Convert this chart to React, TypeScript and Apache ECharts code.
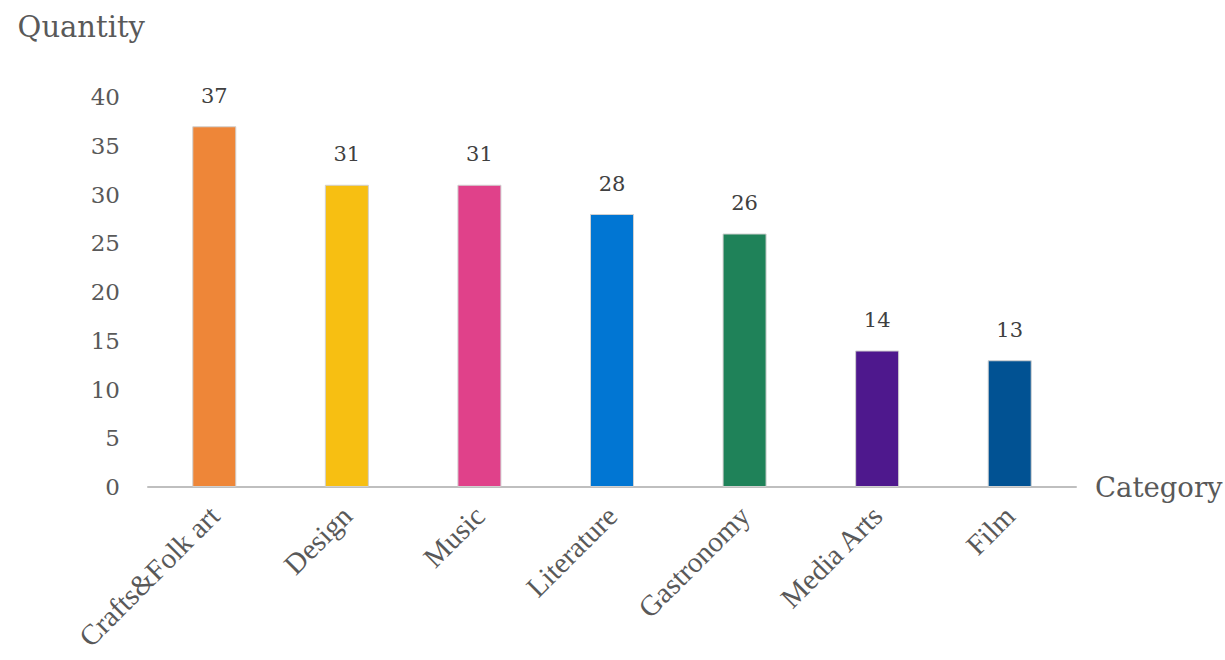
import React, { useEffect, useRef } from "react";
import * as echarts from "echarts";

const categories = ["Crafts&Folk art", "Design", "Music", "Literature", "Gastronomy", "Media Arts", "Film"];
const quantities = [37, 31, 31, 28, 26, 14, 13];
const barColors = ["#EE8638", "#F7BF12", "#E0418A", "#0176D3", "#1F8259", "#4E188D", "#015293"];

export default function App() {
  const ref = useRef<HTMLDivElement>(null);
  useEffect(() => {
    if (!ref.current) return;
    const chart = echarts.init(ref.current, undefined, { renderer: "svg" });
    chart.setOption({
      animation: false,
      backgroundColor: "#ffffff",
      grid: { left: 148, right: 149, top: 97, bottom: 173, containLabel: false, outerBoundsMode: "none" },
      xAxis: {
        type: "category",
        data: categories,
        name: "Category",
        nameLocation: "end",
        nameGap: 19,
        nameTextStyle: { fontFamily: "DejaVu Serif", fontSize: 27.5, color: "#595959", verticalAlign: "middle" },
        axisLine: { show: true, lineStyle: { color: "#BFBFBF", width: 2 } },
        axisTick: { show: false },
        axisLabel: {
          rotate: 45,
          interval: 0,
          margin: 24,
          fontFamily: "Liberation Serif",
          fontSize: 29,
          color: "#595959",
        },
      },
      yAxis: {
        type: "value",
        min: 0,
        max: 40,
        interval: 5,
        name: "Quantity",
        nameLocation: "end",
        nameGap: 56,
        nameTextStyle: { fontFamily: "DejaVu Serif", fontSize: 29, color: "#595959", align: "right", padding: [0, 3, 0, 0] },
        axisLine: { show: false },
        axisTick: { show: false },
        splitLine: { show: false },
        axisLabel: { margin: 28, fontFamily: "DejaVu Serif", fontSize: 23, color: "#595959" },
      },
      series: [
        {
          type: "bar",
          data: quantities.map((v, i) => ({ value: v, itemStyle: { color: barColors[i] } })),
          barWidth: 44,
          itemStyle: { borderColor: "#D0D0D0", borderWidth: 1 },
          label: {
            show: true,
            position: "top",
            distance: 20,
            fontFamily: "DejaVu Serif",
            fontSize: 21,
            color: "#404040",
          },
        },
      ],
    });
    return () => chart.dispose();
  }, []);
  return <div ref={ref} style={{ position: "fixed", left: 0, top: 0, width: 1225, height: 660 }} />;
}
